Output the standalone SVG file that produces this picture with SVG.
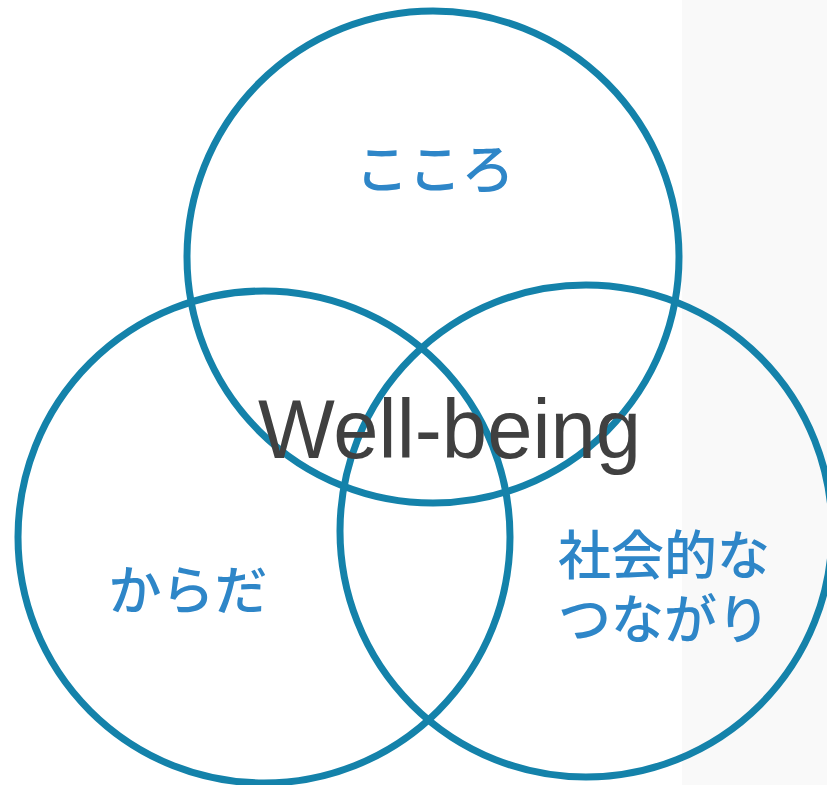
<svg xmlns="http://www.w3.org/2000/svg" width="827" height="785" viewBox="0 0 827 785">
<style>
.c{fill:none;stroke:#1482aa;stroke-width:7}
.jp{font-family:"Noto Sans CJK JP","Noto Sans",sans-serif;font-size:53px;font-weight:500;fill:#2e86c8;text-anchor:middle}
.wb{font-family:"Liberation Sans","DejaVu Sans",sans-serif;font-size:84px;fill:#404040}
</style>
<rect x="0" y="0" width="827" height="785" fill="#ffffff"/>
<rect x="682" y="0" width="145" height="785" fill="#f9f9f9"/>
<g id="top-circle"><circle class="c" cx="433" cy="257" r="246"/></g>
<g id="left-circle"><circle class="c" cx="264" cy="537" r="246"/></g>
<g id="right-circle"><circle class="c" cx="586" cy="531" r="246"/></g>
<g id="kokoro"><text class="jp" x="435" y="189">こころ</text></g>
<g id="karada"><text class="jp" x="188" y="610">からだ</text></g>
<g id="tsunagari"><text class="jp" x="664" y="575">社会的な<tspan x="664" y="639">つながり</tspan></text></g>
<g id="wellbeing"><text class="wb" x="258" y="458" textLength="383" lengthAdjust="spacingAndGlyphs">Well-being</text></g>
</svg>
